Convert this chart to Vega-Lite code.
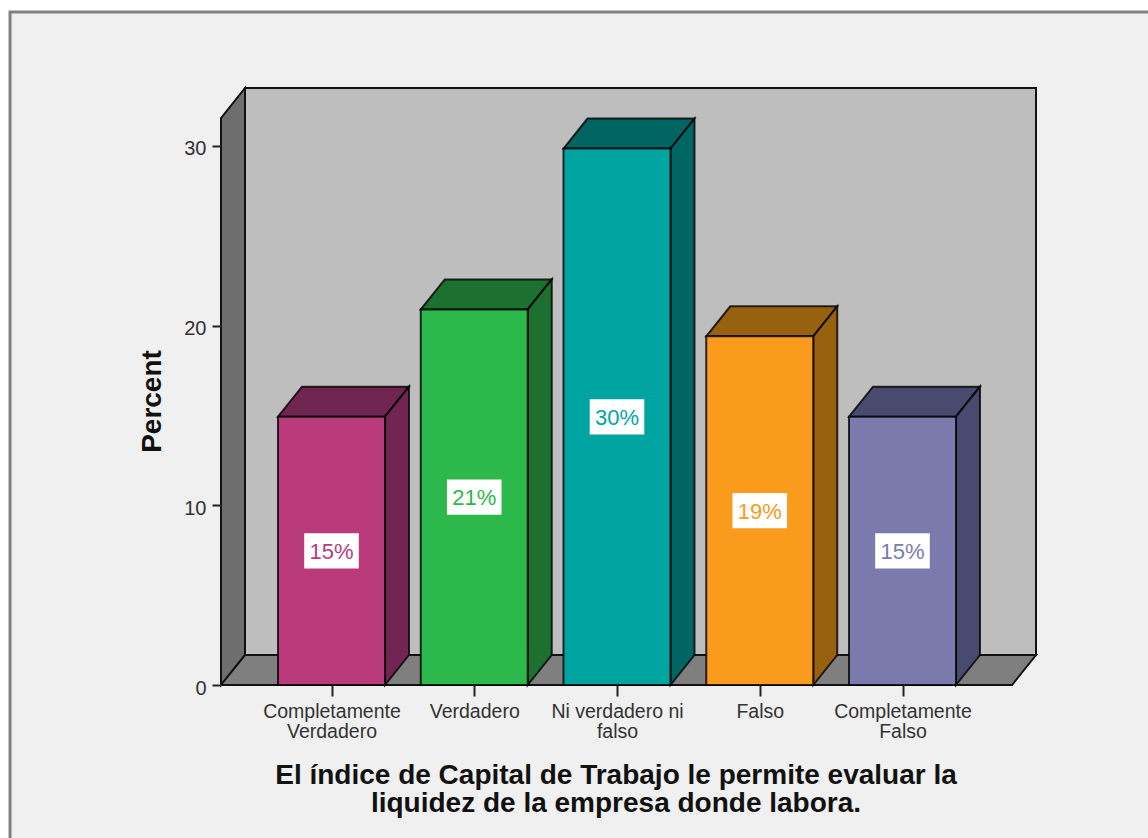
{
"$schema":"https://vega.github.io/schema/vega-lite/v6.json",
"width":815,"height":597,
"autosize":{"type":"none"},
"padding":{"left":221,"top":88,"right":112,"bottom":153},
"background":"#ffffff",
"config":{"view":{"stroke":null},"font":"Liberation Sans"},
"data":{"values":[
{"category":"Completamente Verdadero","order":1,"percent":14.93},
{"category":"Verdadero","order":2,"percent":20.9},
{"category":"Ni verdadero ni falso","order":3,"percent":29.85},
{"category":"Falso","order":4,"percent":19.4},
{"category":"Completamente Falso","order":5,"percent":14.93}
]},
"resolve":{"scale":{"fill":"independent","color":"independent"}},
"layer":[
{"data":{"values":[{"a":1}]},
 "mark":{"type":"rect","fill":"#f0f0f0","stroke":"#808080","strokeWidth":3,"clip":false},
 "encoding":{
  "x":{"datum":-1.252,"type":"quantitative","scale":{"domain":[0.2259,5.9352],"nice":false,"zero":false},
   "axis":{"zindex":1,"values":[1,2,3,4,5],"grid":false,"domain":false,"tickColor":"#222222","tickSize":11,"tickWidth":2,"labelColor":"#333333","labelFontSize":19.5,"labelPadding":6,"labelAngle":0,"labelLineHeight":20.5,"labelOverlap":false,"labelFlush":false,"labelBound":false,"labelBaseline":"top",
    "labelExpr":"[['Completamente','Verdadero'],['Verdadero'],['Ni verdadero ni','falso'],['Falso'],['Completamente','Falso']][datum.value-1]",
    "title":["El índice de Capital de Trabajo le permite evaluar la","liquidez de la empresa donde labora."],"titleFontSize":28,"titleFontWeight":"bold","titleColor":"#111111","titleLineHeight":28,"titleX":394.5,"titleY":76,"titleBaseline":"top"}},
  "x2":{"datum":8},
  "y":{"datum":-10,"type":"quantitative","scale":{"domain":[0,33.22],"nice":false,"zero":false},
   "axis":{"zindex":1,"values":[0,10,20,30],"grid":false,"domain":false,"tickColor":"#222222","tickSize":9,"tickWidth":2,"labelColor":"#333333","labelFontSize":20,"labelPadding":6,"labelOffset":3,"labelFlush":false,"labelBound":false,"title":"Percent","titleFontSize":28,"titleFontWeight":"bold","titleColor":"#111111","titleX":-69,"titleY":313,"titleAngle":270,"titleBaseline":"middle"}},
  "y2":{"datum":37.45}}},
{"data":{"values":[{"a":1}]},
 "mark":{"type":"rect","fill":"#bebebe","stroke":"#111111","strokeWidth":2},
 "encoding":{
  "x":{"datum":0.394,"type":"quantitative","scale":{"domain":[0.2259,5.9352],"nice":false,"zero":false}},
  "x2":{"datum":5.9352},
  "y":{"datum":1.669,"type":"quantitative","scale":{"domain":[0,33.22],"nice":false,"zero":false}},
  "y2":{"datum":33.22}}},
{"data":{"values":[{"px":0.2259,"low":0,"high":31.55},{"px":0.394,"low":1.669,"high":33.22}]},
 "mark":{"type":"area","orient":"vertical","fill":"#6e6e6e","stroke":"#111111","strokeWidth":2},
 "encoding":{
  "x":{"field":"px","type":"quantitative","scale":{"domain":[0.2259,5.9352],"nice":false,"zero":false}},
  "y":{"field":"high","type":"quantitative","stack":null,"scale":{"domain":[0,33.22],"nice":false,"zero":false}},
  "y2":{"field":"low"}}},
{"data":{"values":[{"px":0.2259,"low":0,"high":0},{"px":0.394,"low":0,"high":1.669},{"px":5.7671,"low":0,"high":1.669},{"px":5.9352,"low":1.669,"high":1.669}]},
 "mark":{"type":"area","orient":"vertical","fill":"#7f7f7f","stroke":"#111111","strokeWidth":2},
 "encoding":{
  "x":{"field":"px","type":"quantitative","scale":{"domain":[0.2259,5.9352],"nice":false,"zero":false}},
  "y":{"field":"high","type":"quantitative","stack":null,"scale":{"domain":[0,33.22],"nice":false,"zero":false}},
  "y2":{"field":"low"}}},
{"transform":[
  {"calculate":"[0,0.1681,0.7496,0.9177]","as":"t"},{"flatten":["t"]},
  {"calculate":"datum.order-0.3748+datum.t","as":"px"},
  {"calculate":"datum.percent+(datum.t>0.7496?1.669:0)","as":"low"},
  {"calculate":"datum.percent+(datum.t>0?1.669:0)","as":"high"}],
 "mark":{"type":"area","orient":"vertical","stroke":"#000000","strokeOpacity":0.8,"strokeWidth":2},
 "encoding":{
  "x":{"field":"px","type":"quantitative","scale":{"domain":[0.2259,5.9352],"nice":false,"zero":false}},
  "y":{"field":"high","type":"quantitative","stack":null,"scale":{"domain":[0,33.22],"nice":false,"zero":false}},
  "y2":{"field":"low"},
  "fill":{"field":"category","type":"nominal","legend":null,"sort":null,"scale":{"domain":["Completamente Verdadero","Verdadero","Ni verdadero ni falso","Falso","Completamente Falso"],"range":["#702650","#1e7030","#006563","#97610f","#494a6f"]}}}},
{"transform":[
  {"calculate":"[0,1]","as":"t"},{"flatten":["t"]},
  {"calculate":"datum.order+0.3748+datum.t*0.1681","as":"px"},
  {"calculate":"datum.t*1.669","as":"low"},
  {"calculate":"datum.percent+datum.t*1.669","as":"high"}],
 "mark":{"type":"area","orient":"vertical","stroke":"#000000","strokeOpacity":0.8,"strokeWidth":2},
 "encoding":{
  "x":{"field":"px","type":"quantitative","scale":{"domain":[0.2259,5.9352],"nice":false,"zero":false}},
  "y":{"field":"high","type":"quantitative","stack":null,"scale":{"domain":[0,33.22],"nice":false,"zero":false}},
  "y2":{"field":"low"},
  "fill":{"field":"category","type":"nominal","legend":null,"sort":null,"scale":{"domain":["Completamente Verdadero","Verdadero","Ni verdadero ni falso","Falso","Completamente Falso"],"range":["#702650","#1e7030","#006563","#97610f","#494a6f"]}}}},
{"transform":[
  {"calculate":"datum.order-0.3748","as":"left"},
  {"calculate":"datum.order+0.3748","as":"right"}],
 "mark":{"type":"rect","stroke":"#000000","strokeOpacity":0.8,"strokeWidth":2},
 "encoding":{
  "x":{"field":"left","type":"quantitative","scale":{"domain":[0.2259,5.9352],"nice":false,"zero":false}},
  "x2":{"field":"right"},
  "y":{"field":"percent","type":"quantitative","scale":{"domain":[0,33.22],"nice":false,"zero":false}},
  "y2":{"datum":0},
  "fill":{"field":"category","type":"nominal","legend":null,"sort":null,"scale":{"domain":["Completamente Verdadero","Verdadero","Ni verdadero ni falso","Falso","Completamente Falso"],"range":["#b93b7c","#2db84b","#00a5a2","#f99b1c","#7b7aac"]}}}},
{"transform":[
  {"calculate":"datum.order-0.1912","as":"left"},
  {"calculate":"datum.order+0.1912","as":"right"},
  {"calculate":"datum.percent/2-0.98","as":"low"},
  {"calculate":"datum.percent/2+0.98","as":"high"}],
 "mark":{"type":"rect","fill":"#ffffff"},
 "encoding":{
  "x":{"field":"left","type":"quantitative","scale":{"domain":[0.2259,5.9352],"nice":false,"zero":false}},
  "x2":{"field":"right"},
  "y":{"field":"low","type":"quantitative","scale":{"domain":[0,33.22],"nice":false,"zero":false}},
  "y2":{"field":"high"}}},
{"transform":[
  {"calculate":"format(datum.percent,'.0f')+'%'","as":"label"},
  {"calculate":"datum.percent/2","as":"mid"}],
 "mark":{"type":"text","fontSize":22,"align":"center","baseline":"middle","dy":1},
 "encoding":{
  "x":{"field":"order","type":"quantitative","scale":{"domain":[0.2259,5.9352],"nice":false,"zero":false}},
  "y":{"field":"mid","type":"quantitative","scale":{"domain":[0,33.22],"nice":false,"zero":false}},
  "text":{"field":"label"},
  "color":{"field":"category","type":"nominal","legend":null,"sort":null,"scale":{"domain":["Completamente Verdadero","Verdadero","Ni verdadero ni falso","Falso","Completamente Falso"],"range":["#b93b7c","#2db84b","#00a5a2","#f99b1c","#7b7aac"]}}}}
]
}
